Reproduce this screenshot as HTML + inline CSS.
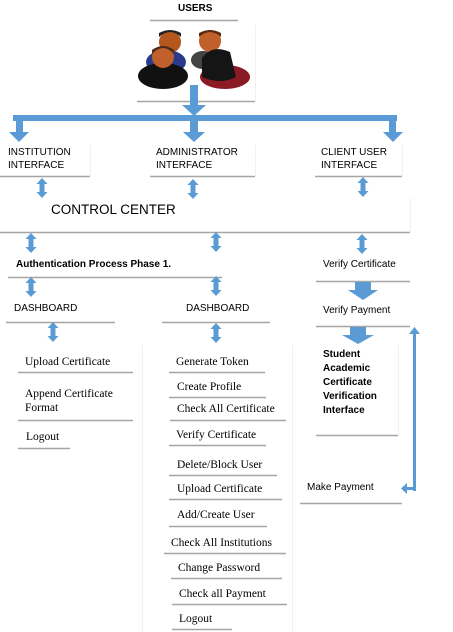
<!DOCTYPE html>
<html><head><meta charset="utf-8"><style>
body{margin:0;width:453px;height:632px;background:#fff;position:relative;overflow:hidden}
.t{position:absolute;white-space:nowrap;color:#000;font-family:"Liberation Sans",sans-serif;font-size:10px;line-height:13px}
.s{font-family:"Liberation Serif",serif;font-size:11.5px}
.b{font-weight:bold}
svg{position:absolute;left:0;top:0}
</style></head><body>
<svg width="453" height="632">
<defs>
<g id="da"><polygon points="-5.5,6 0,0 5.5,6 2.5,6 2.5,14 5.5,14 0,20 -5.5,14 -2.5,14 -2.5,6" fill="#5b9bd5"/></g>
</defs>
<g stroke="#a6a6a6" stroke-width="1.5">
<line x1="150" y1="20.5" x2="238" y2="20.5"/>
<line x1="137" y1="101.5" x2="255" y2="101.5"/>
<line x1="0" y1="176.5" x2="90" y2="176.5"/>
<line x1="150" y1="176.5" x2="255" y2="176.5"/>
<line x1="315" y1="176.5" x2="402" y2="176.5"/>
<line x1="0" y1="232.5" x2="410" y2="232.5"/>
<line x1="8" y1="277.5" x2="222" y2="277.5"/>
<line x1="316" y1="281.5" x2="410" y2="281.5"/>
<line x1="6" y1="322.5" x2="115" y2="322.5"/>
<line x1="162" y1="322.5" x2="270" y2="322.5"/>
<line x1="316" y1="326.5" x2="410" y2="326.5"/>
<line x1="316" y1="435.5" x2="398" y2="435.5"/>
<line x1="300" y1="503.5" x2="402" y2="503.5"/>
<line x1="18" y1="372.5" x2="133" y2="372.5"/>
<line x1="18" y1="420.5" x2="133" y2="420.5"/>
<line x1="18" y1="448.5" x2="70" y2="448.5"/>
<line x1="169" y1="372.5" x2="265" y2="372.5"/>
<line x1="169" y1="397.5" x2="266" y2="397.5"/>
<line x1="170" y1="420.5" x2="286" y2="420.5"/>
<line x1="169" y1="445.5" x2="266" y2="445.5"/>
<line x1="169" y1="475.5" x2="277" y2="475.5"/>
<line x1="169" y1="499.5" x2="282" y2="499.5"/>
<line x1="169" y1="526.5" x2="267" y2="526.5"/>
<line x1="164" y1="553.5" x2="286" y2="553.5"/>
<line x1="171" y1="578.5" x2="282" y2="578.5"/>
<line x1="172" y1="604.5" x2="287" y2="604.5"/>
<line x1="172" y1="629.5" x2="232" y2="629.5"/>
</g>
<g stroke="#f0f0f0" stroke-width="1">
<line x1="255.5" y1="25" x2="255.5" y2="101"/>
<line x1="90.5" y1="145" x2="90.5" y2="176"/>
<line x1="255.5" y1="145" x2="255.5" y2="176"/>
<line x1="402.5" y1="145" x2="402.5" y2="176"/>
<line x1="410.5" y1="198" x2="410.5" y2="232"/>
<line x1="398.5" y1="345" x2="398.5" y2="435"/>
<line x1="142.5" y1="345" x2="142.5" y2="632"/>
<line x1="292.5" y1="345" x2="292.5" y2="632"/>
</g>
<g>
<ellipse cx="166" cy="62" rx="20" ry="12" fill="#2b3a8a"/>
<circle cx="170" cy="42" r="11" fill="#b5561e"/>
<path d="M159 37 q11 -10 22 0 v-4 q-11 -6 -22 0z" fill="#222"/>
<ellipse cx="163" cy="76" rx="25" ry="13" fill="#111"/>
<circle cx="163" cy="57" r="11" fill="#c0602a"/>
<path d="M152 54 q11 -12 22 0 v-4 q-11 -8 -22 0z" fill="#4a2a1a"/>
<circle cx="210" cy="41" r="11" fill="#c0602a"/>
<path d="M199 37 q11 -10 22 0 v-4 q-11 -6 -22 0z" fill="#5a2a10"/>
<ellipse cx="203" cy="60" rx="12" ry="9" fill="#444"/>
<ellipse cx="225" cy="77" rx="25" ry="12" fill="#8a1a24"/>
<path d="M202 58 q10 -14 28 -6 l6 25 q-15 8 -34 0z" fill="#151515"/>
</g>
<g fill="#5b9bd5">
<rect x="190" y="85" width="8" height="20"/>
<polygon points="182,105 206,105 194,116"/>
<rect x="13" y="115" width="384" height="6"/>
<rect x="16" y="121" width="7" height="12"/><polygon points="9,132 29,132 19,142"/>
<rect x="190" y="121" width="8" height="12"/><polygon points="183,132 205,132 194,142"/>
<rect x="389" y="121" width="7" height="12"/><polygon points="383,132 403,132 393,142"/>
<rect x="355" y="282" width="16" height="8"/><polygon points="348,290 378,290 363,300"/>
<rect x="350" y="327" width="16" height="8"/><polygon points="342,335 374,335 358,344"/>
<rect x="413" y="333" width="3" height="158"/>
<polygon points="409,334 420,334 414.5,327"/>
<rect x="406" y="487" width="10" height="3"/>
<polygon points="407,483 407,494 401,488.5"/>
</g>
<use href="#da" x="42" y="178"/>
<use href="#da" x="193" y="179"/>
<use href="#da" x="363" y="177"/>
<use href="#da" x="31" y="233"/><use href="#da" x="216" y="232"/><use href="#da" x="362" y="234"/>
<use href="#da" x="31" y="277"/><use href="#da" x="216" y="276"/>
<use href="#da" x="53" y="322"/><use href="#da" x="216" y="323"/>
</svg>
<div class="t b" style="left:178px;top:2px">USERS</div>
<div class="t" style="left:8px;top:146px">INSTITUTION<br>INTERFACE</div>
<div class="t" style="left:156px;top:146px">ADMINISTRATOR<br>INTERFACE</div>
<div class="t" style="left:321px;top:146px">CLIENT USER<br>INTERFACE</div>
<div class="t" style="left:51px;top:202px;font-size:13.5px;line-height:16px">CONTROL CENTER</div>
<div class="t b" style="left:16px;top:258px">Authentication Process Phase 1.</div>
<div class="t" style="left:323px;top:258px">Verify Certificate</div>
<div class="t" style="left:14px;top:302px">DASHBOARD</div>
<div class="t" style="left:186px;top:302px">DASHBOARD</div>
<div class="t" style="left:323px;top:304px">Verify Payment</div>
<div class="t b" style="left:323px;top:348px;line-height:14px">Student<br>Academic<br>Certificate<br>Verification<br>Interface</div>
<div class="t" style="left:307px;top:481px">Make Payment</div>
<div class="t s" style="left:25px;top:356px">Upload Certificate</div>
<div class="t s" style="left:25px;top:387px;line-height:14px">Append Certificate<br>Format</div>
<div class="t s" style="left:26px;top:431px">Logout</div>
<div class="t s" style="left:176px;top:356px">Generate Token</div>
<div class="t s" style="left:177px;top:381px">Create Profile</div>
<div class="t s" style="left:177px;top:403px">Check All Certificate</div>
<div class="t s" style="left:176px;top:429px">Verify Certificate</div>
<div class="t s" style="left:177px;top:459px">Delete/Block User</div>
<div class="t s" style="left:177px;top:483px">Upload Certificate</div>
<div class="t s" style="left:177px;top:509px">Add/Create User</div>
<div class="t s" style="left:171px;top:537px">Check All Institutions</div>
<div class="t s" style="left:178px;top:562px">Change Password</div>
<div class="t s" style="left:179px;top:588px">Check all Payment</div>
<div class="t s" style="left:179px;top:613px">Logout</div>
</body></html>
